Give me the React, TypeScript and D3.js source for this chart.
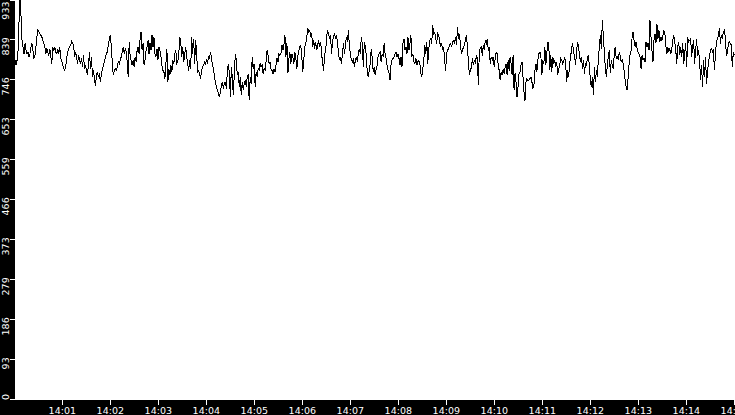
import { useEffect, useRef } from 'react';
import * as d3 from 'd3';

const WIDTH = 735;
const HEIGHT = 415;

// Samples, oldest first (one every ~1.24 s)
const samples0000 = [
  792, 779, 791, 814, 884, 933, 892, 837, 822, 806,
  830, 814, 806, 810, 799, 806, 822, 830, 814, 795,
  802, 822, 845, 862, 857, 853, 849, 845, 837, 830,
  822, 806, 818, 810, 802, 818, 799, 783, 822, 814,
  822, 810, 806, 818, 806, 822, 795, 791, 779, 771,
  767, 775, 795, 810, 818, 822, 826, 834, 830, 826,
  799, 810, 799, 783, 802, 791, 783, 795, 775, 802,
  771, 779, 767, 756, 783, 810, 771, 799, 752, 767,
  748, 732, 756, 764, 752, 760, 740, 760, 771, 779,
  787, 799, 806, 810, 826, 841, 849, 822, 783, 756,
  767, 771, 767, 775, 787, 783,
];
const samples0212 = [
  791, 799, 810, 822, 806, 818, 810, 787, 752, 834,
  799, 791, 779, 791, 775, 799, 787, 814, 822, 806,
  841, 857, 814, 830, 779, 791, 814, 822, 837, 806,
  830, 814, 849, 822, 845, 806, 799, 818, 791, 822,
  814, 799, 779, 767, 764, 748, 783, 818, 740, 771,
  756, 779, 764, 791, 783, 806, 814, 783, 787, 806,
  845, 834, 799, 822, 787, 806, 822, 799, 783, 767,
  791, 771, 845, 806, 841, 783, 837, 806, 764, 767,
  760, 748, 767, 775, 779, 787, 783, 791, 783, 799,
  795, 810, 795, 779, 771, 752, 740, 729, 721, 713,
  705, 717, 732, 740, 725, 740,
];
const samples0424 = [
  740, 725, 767, 783, 760, 705, 775, 752, 709, 760,
  806, 791, 756, 764, 729, 752, 709, 740, 721, 736,
  744, 729, 752, 756, 697, 752, 736, 799, 771, 783,
  729, 764, 752, 771, 767, 783, 775, 779, 760, 771,
  767, 787, 814, 802, 783, 787, 771, 767, 760, 771,
  764, 779, 795, 787, 806, 802, 806, 826, 814, 826,
  849, 799, 830, 760, 795, 810, 783, 806, 799, 783,
  810, 795, 771, 799, 814, 822, 826, 799, 764, 791,
  822, 830, 845, 865, 857, 861, 845, 853, 822, 837,
  818, 834, 814, 826, 837, 822, 834, 806, 783, 767,
  806, 810, 845, 861, 853, 841,
];
const samples0635 = [
  849, 806, 834, 845, 853, 841, 849, 834, 806, 791,
  799, 783, 806, 830, 806, 826, 845, 834, 861, 822,
  806, 791, 787, 795, 775, 791, 799, 787, 806, 818,
  806, 845, 830, 775, 834, 822, 802, 764, 752, 767,
  783, 818, 795, 764, 775, 756, 771, 779, 802, 806,
  810, 787, 806, 799, 830, 806, 795, 779, 767, 760,
  744, 783, 791, 795, 799, 806, 810, 799, 806, 795,
  779, 799, 775, 830, 841, 814, 822, 806, 845, 814,
  830, 849, 799, 806, 787, 783, 795, 779, 787, 791,
  783, 760, 752, 771, 791, 826, 806, 834, 783, 818,
  837, 841, 830, 872, 849, 857,
];
const samples0847 = [
  841, 830, 853, 849, 834, 822, 830, 814, 822, 791,
  767, 806, 814, 818, 826, 830, 822, 834, 837, 830,
  845, 826, 869, 841, 853, 822, 806, 814, 822, 826,
  841, 849, 822, 783, 756, 767, 775, 795, 779, 791,
  783, 802, 795, 732, 814, 818, 822, 802, 826, 814,
  837, 830, 841, 814, 818, 783, 799, 791, 799, 775,
  795, 810, 806, 779, 767, 744, 764, 756, 771, 760,
  775, 783, 756, 791, 767, 799, 783, 756, 802, 721,
  760, 740, 705, 729, 760, 764, 779, 787, 752, 717,
  697, 740, 748, 744, 744, 748, 752, 740, 725, 732,
  767, 783, 764, 791, 806, 810,
];
const samples1058 = [
  802, 756, 791, 783, 822, 779, 806, 834, 826, 767,
  802, 764, 799, 783, 791, 775, 787, 756, 771, 779,
  795, 791, 783, 787, 799, 783, 740, 767, 752, 783,
  799, 818, 830, 810, 799, 779, 810, 834, 822, 802,
  787, 799, 771, 791, 760, 783, 779, 799, 802, 775,
  740, 729, 752, 709, 775, 740, 767, 752, 795, 822,
  849, 818, 884, 845, 810, 771, 752, 779, 799, 814,
  760, 791, 779, 771, 806, 822, 795, 799, 791, 810,
  802, 787, 791, 783, 764, 744, 729, 721, 752, 783,
  806, 814, 845, 857, 837, 822, 834, 818, 810, 806,
  799, 771, 802, 791, 795, 787,
];
const samples1310 = [
  834, 822, 830, 814, 884, 845, 814, 787, 837, 853,
  830, 876, 841, 861, 834, 845, 837, 849, 861, 853,
  826, 806, 822, 810, 818, 806, 818, 837, 849, 834,
  814, 783, 822, 834, 802, 822, 799, 830, 783, 806,
  830, 775, 845, 834, 837, 841, 799, 822, 837, 783,
  814, 841, 802, 814, 791, 744, 779, 729, 791, 752,
  799, 736, 764, 787, 802, 814, 818, 810, 814, 767,
  806, 834, 841, 849, 865, 830, 849, 841, 857, 861,
  845, 802, 806, 830, 834, 830, 826, 775, 810, 802,
];

const sampleStart = new Date(2024, 0, 1, 14, 0, 1);
const sampleStepMs = 1240;
const windowStart = new Date(2024, 0, 1, 14, 0, 0);
const windowEnd = new Date(2024, 0, 1, 14, 15, 0);
const yTickCount = 10;

export default function App() {
  const svgRef = useRef<SVGSVGElement>(null);

  useEffect(() => {
    if (!svgRef.current) return;

    const values = [
      ...samples0000, ...samples0212, ...samples0424, ...samples0635,
      ...samples0847, ...samples1058, ...samples1310,
    ];
    const points = values.map((v, i) => ({
      t: new Date(sampleStart.getTime() + i * sampleStepMs),
      v,
    }));

    const axisW = 15;
    const plotBottom = HEIGHT - 15;
    const font = '"DejaVu Sans", Verdana, sans-serif';

    const svg = d3.select(svgRef.current);
    svg.selectAll('*').remove();

    const x = d3.scaleTime()
      .domain([windowStart, windowEnd])
      .range([14.3, 734.3]);

    const yMax = d3.max(values) || 1;
    const y = d3.scaleLinear()
      .domain([0, yMax])
      .range([plotBottom - 0.7, -0.7]);

    svg.append('rect')
      .attr('width', WIDTH)
      .attr('height', HEIGHT)
      .attr('fill', '#fff');

    svg.append('clipPath')
      .attr('id', 'plot-clip')
      .append('rect')
      .attr('x', axisW)
      .attr('y', 0)
      .attr('width', WIDTH - axisW)
      .attr('height', plotBottom);

    const line = d3.line<typeof points[0]>()
      .x(d => x(d.t))
      .y(d => y(d.v));

    svg.append('path')
      .datum(points)
      .attr('clip-path', 'url(#plot-clip)')
      .attr('fill', 'none')
      .attr('stroke', '#000')
      .attr('stroke-width', 1)
      .attr('shape-rendering', 'crispEdges')
      .attr('d', line);

    // black axis strips
    svg.append('rect')
      .attr('x', 0).attr('y', 0)
      .attr('width', axisW).attr('height', HEIGHT)
      .attr('fill', '#000');
    svg.append('rect')
      .attr('x', 0).attr('y', plotBottom)
      .attr('width', WIDTH).attr('height', HEIGHT - plotBottom)
      .attr('fill', '#000');

    // y ticks: tenths of the max, floored
    const yTicks = d3.range(0, yTickCount + 1).map(i => (yMax * i) / yTickCount);
    const yAxis = svg.append('g');
    yAxis.selectAll('rect')
      .data(yTicks)
      .join('rect')
      .attr('x', 10)
      .attr('y', d => Math.max(0, Math.round(y(d))))
      .attr('width', 5)
      .attr('height', 1)
      .attr('fill', '#fff');
    yAxis.selectAll('text')
      .data(yTicks)
      .join('text')
      .attr('transform', d => d === 0
        ? `translate(9,${plotBottom}) rotate(-90)`
        : `translate(9,${Math.max(1.5, y(d) - 2)}) rotate(-90)`)
      .attr('text-anchor', d => (d === 0 ? 'start' : 'end'))
      .attr('fill', '#fff')
      .attr('font-family', font)
      .attr('font-size', '9.5px')
      .text(d => String(Math.floor(d + 1e-9)));

    // x ticks every minute
    const xTicks = d3.timeMinute.range(d3.timeMinute.offset(windowStart, 1), d3.timeMinute.offset(windowEnd, 1));
    const fmt = d3.timeFormat('%H:%M');
    const xAxis = svg.append('g');
    xAxis.selectAll('rect')
      .data(xTicks)
      .join('rect')
      .attr('x', d => Math.floor(x(d)))
      .attr('y', plotBottom)
      .attr('width', 1)
      .attr('height', 5)
      .attr('fill', '#fff');
    xAxis.selectAll('text')
      .data(xTicks)
      .join('text')
      .attr('x', d => x(d))
      .attr('y', 414)
      .attr('text-anchor', 'middle')
      .attr('fill', '#fff')
      .attr('font-family', font)
      .attr('font-size', '9.5px')
      .text(d => fmt(d));
  }, []);

  return (
    <svg
      ref={svgRef}
      width={WIDTH}
      height={HEIGHT}
      style={{ position: 'absolute', left: 0, top: 0, display: 'block' }}
    />
  );
}
